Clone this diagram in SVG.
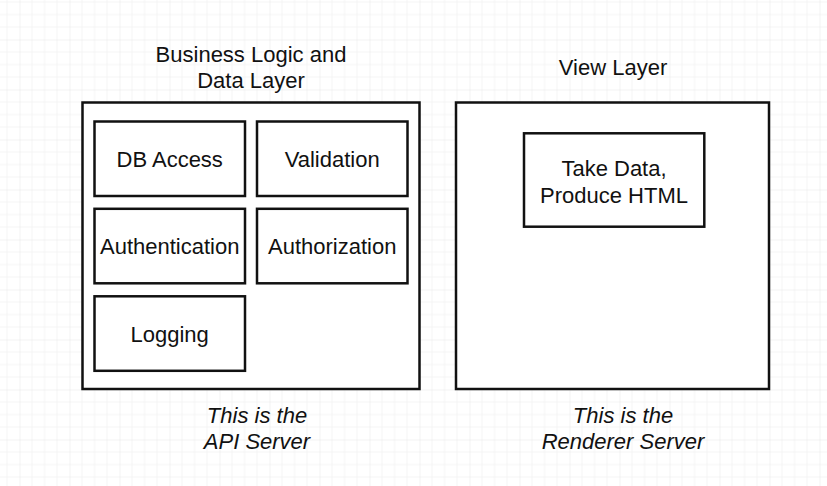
<svg xmlns="http://www.w3.org/2000/svg" width="827" height="486" viewBox="0 0 827 486">
  <style>
    .box { fill: #ffffff; stroke: #111111; stroke-width: 2.5; }
    .lbl { font-family: "Liberation Sans", Arial, Helvetica, sans-serif; font-size: 22px; fill: #111111; text-anchor: middle; }
    .it { font-style: italic; }
  </style>
  <defs>
    <pattern id="grid" patternUnits="userSpaceOnUse" x="19.5" y="39.5" width="50" height="50">
      <path d="M12.5 0V50M25 0V50M37.5 0V50M0 12.5H50M0 25H50M0 37.5H50" stroke="#f4f4f4" stroke-width="1" fill="none"/>
      <path d="M0 0V50M0 0H50" stroke="#e6e6e6" stroke-width="1" fill="none"/>
    </pattern>
  </defs>
  <rect x="0" y="0" width="827" height="486" fill="#ffffff"/>
  <rect x="0" y="0" width="827" height="486" fill="url(#grid)"/>

  <g id="api-server">
    <text class="lbl" x="251" y="61.7">Business Logic and</text>
    <text class="lbl" x="251" y="87.7">Data Layer</text>
    <rect class="box" x="82.5" y="102.5" width="337" height="286.5"/>
    <text class="lbl it" x="257" y="422.7">This is the</text>
    <text class="lbl it" x="257" y="449">API Server</text>
  </g>

  <g id="db-access">
    <rect class="box" x="94.5" y="121.5" width="150.5" height="74.5"/>
    <text class="lbl" x="169.7" y="167">DB Access</text>
  </g>
  <g id="validation">
    <rect class="box" x="257" y="121.5" width="150.5" height="74.5"/>
    <text class="lbl" x="332.2" y="167">Validation</text>
  </g>
  <g id="authentication">
    <rect class="box" x="94.5" y="208.8" width="150.5" height="74.5"/>
    <text class="lbl" x="169.7" y="254.3">Authentication</text>
  </g>
  <g id="authorization">
    <rect class="box" x="257" y="208.8" width="150.5" height="74.5"/>
    <text class="lbl" x="332.2" y="254.3">Authorization</text>
  </g>
  <g id="logging">
    <rect class="box" x="94.5" y="296.3" width="150.5" height="74.5"/>
    <text class="lbl" x="169.7" y="341.7">Logging</text>
  </g>

  <g id="renderer-server">
    <text class="lbl" x="613" y="74.5">View Layer</text>
    <rect class="box" x="456" y="102.5" width="313" height="286.5"/>
    <text class="lbl it" x="623" y="422.7">This is the</text>
    <text class="lbl it" x="623" y="449">Renderer Server</text>
  </g>

  <g id="take-data">
    <rect class="box" x="524" y="133.3" width="180.3" height="93.4"/>
    <text class="lbl" x="614" y="176.3">Take Data,</text>
    <text class="lbl" x="614" y="202.7">Produce HTML</text>
  </g>

  <g id="connectors"></g>
</svg>
